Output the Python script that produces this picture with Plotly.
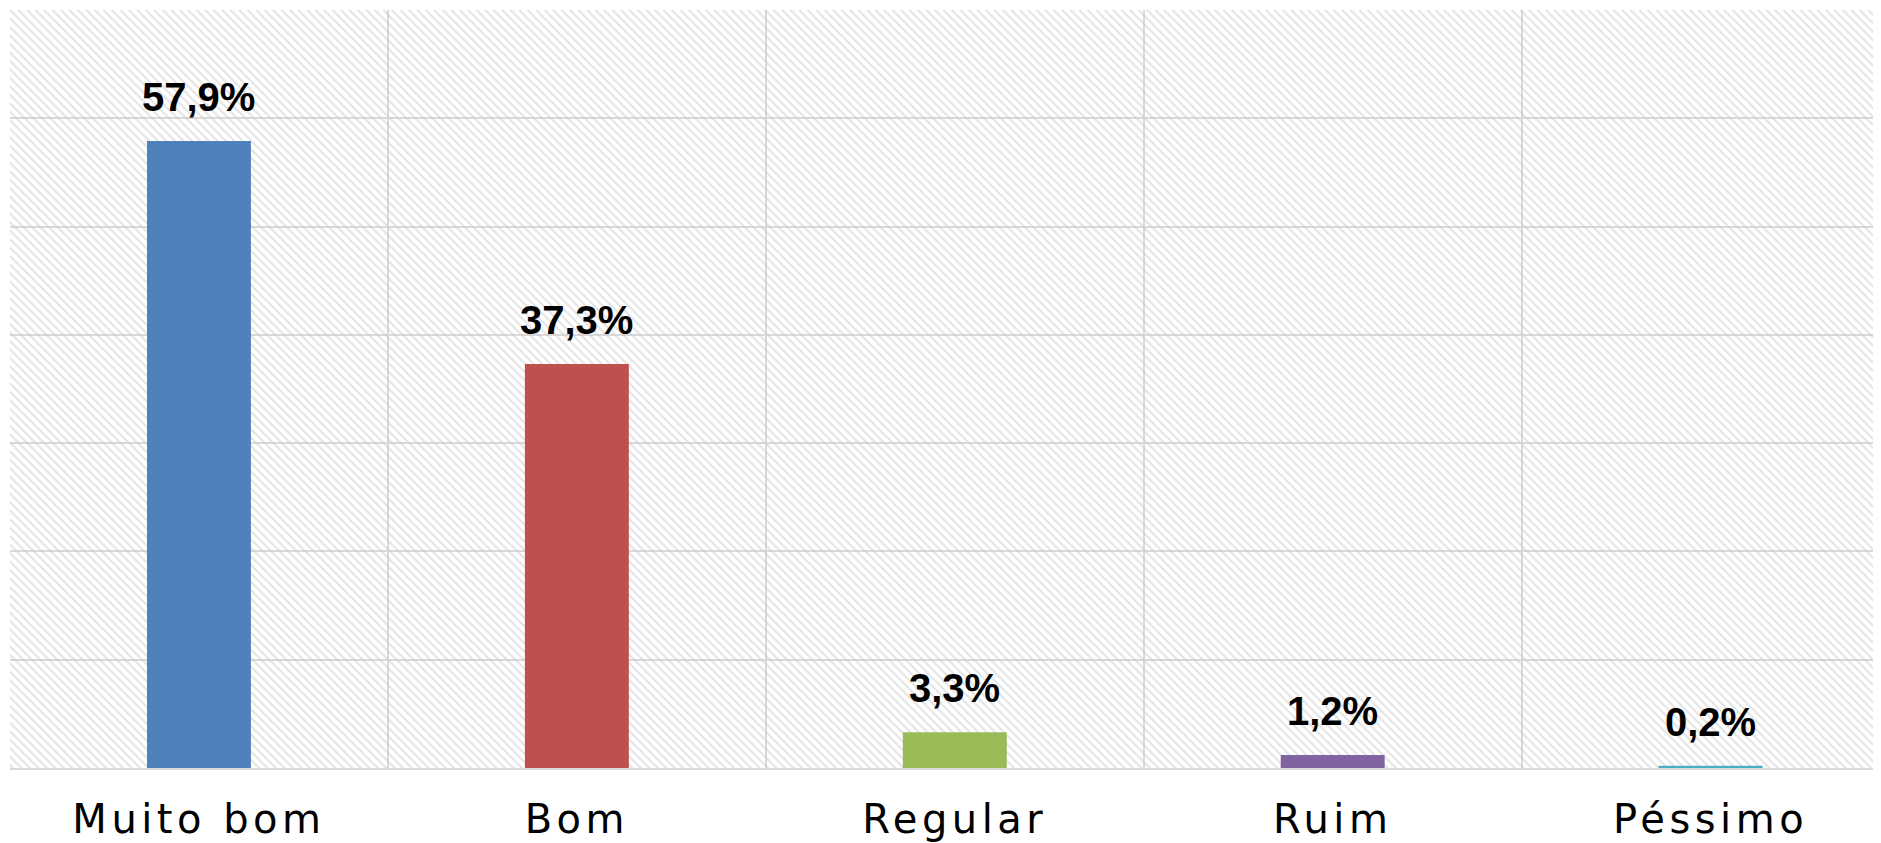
import plotly.graph_objects as go

categories = ["Muito bom", "Bom", "Regular", "Ruim", "Péssimo"]
values = [57.9, 37.3, 3.3, 1.2, 0.2]
labels = ["57,9%", "37,3%", "3,3%", "1,2%", "0,2%"]
colors = ["#4F81BD", "#C0504D", "#9BBB59", "#8064A2", "#4BACC6"]
y_max = 70
y_step = 10

fig = go.Figure()

# hatched background spanning the whole plot area
fig.add_trace(go.Bar(
    x=[categories[2]], y=[y_max], width=[len(categories)],
    marker=dict(color="rgba(0,0,0,0)",
                line=dict(width=0),
                pattern=dict(shape="\\", fgcolor="#c8c8c8", bgcolor="rgba(0,0,0,0)",
                             size=6, solidity=0.35)),
    hoverinfo="skip", showlegend=False,
))

fig.add_trace(go.Bar(
    x=categories, y=values, width=0.275,
    marker=dict(color=colors, line=dict(width=0)),
    showlegend=False,
))

for c, v, t in zip(categories, values, labels):
    fig.add_annotation(x=c, y=v, text=t, showarrow=False, yanchor="bottom",
                       yshift=20, font=dict(family="Liberation Sans, Arial", size=40,
                                           color="#000000", weight="bold"))

fig.update_layout(
    width=1881, height=843,
    margin=dict(l=2, r=0, t=2, b=83),
    barmode="overlay",
    plot_bgcolor="white", paper_bgcolor="white",
    showlegend=False,
)
fig.update_xaxes(
    type="category", categoryorder="array", categoryarray=categories,
    range=[-0.5, 4.472], tickson="boundaries",
    showgrid=True, gridcolor="#d9d9d9", gridwidth=1.5,
    ticks="", tickfont=dict(family="DejaVu Sans", size=40, color="#000000"),
    ticklabelstandoff=15,
    showline=True, linecolor="#d9d9d9", linewidth=2,
)
fig.update_yaxes(
    range=[0, y_max], dtick=y_step, showticklabels=False,
    showgrid=True, gridcolor="#d9d9d9", gridwidth=1.5, zeroline=False,
)

post = """
function sp(){document.querySelectorAll('.xtick text').forEach(function(t){t.style.letterSpacing='4.5px';});}
sp(); setTimeout(sp, 200);
"""
fig.write_html("out.html", post_script=post)
